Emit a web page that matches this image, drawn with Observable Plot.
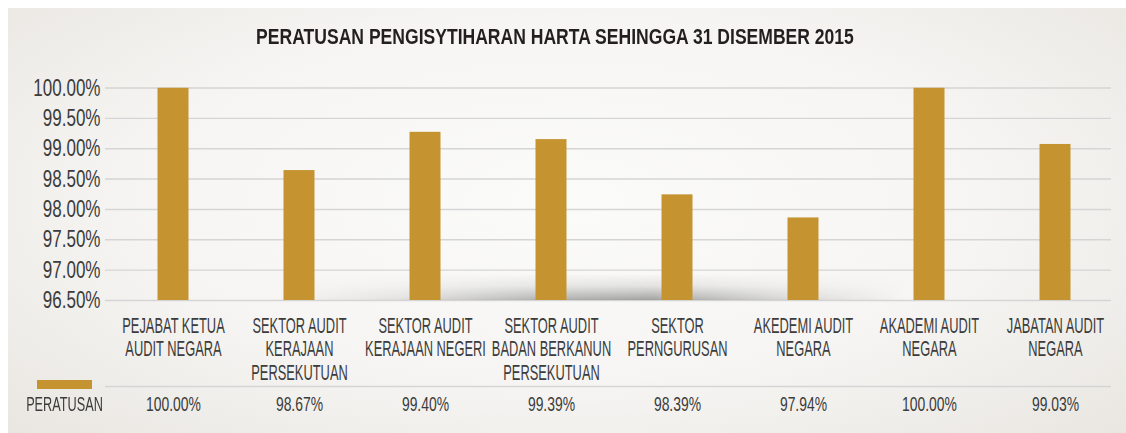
<!DOCTYPE html>
<html>
<head>
<meta charset="utf-8">
<script src="https://cdn.jsdelivr.net/npm/d3@7"></script>
<script src="https://cdn.jsdelivr.net/npm/@observablehq/plot@0.6"></script>
<style>
  html, body { margin: 0; padding: 0; background: #ffffff; width: 1126px; height: 433px; overflow: hidden; }
  #panel { position: absolute; left: 8px; top: 8px; width: 1118px; height: 425px;
    background: radial-gradient(ellipse 75% 85% at 50% 45%, #fbfbfa 0%, #f6f5f3 50%, #e7e4de 100%); }
  #wrap { position: absolute; left: 0; top: 0; width: 1126px; height: 433px; }
  #title { height: 35px; padding-top: 25px; width: 1110px; text-align: center; line-height: 24px;
    font-family: "Liberation Sans", Arial, sans-serif; font-weight: bold; white-space: nowrap;
    font-size: 22.5px; color: #231f20; transform: scaleX(0.78); transform-origin: 555px 0; }
  #swatch { position: absolute; left: 37px; top: 380px; width: 55px; height: 9px; background: #c5932f; }
  #legendLabel { position: absolute; left: 0; top: 392px; width: 129px; text-align: center; line-height: 24px;
    font-family: "Liberation Sans", Arial, sans-serif; font-size: 20.5px; color: #3c3c3c;
    transform: scaleX(0.62); transform-origin: 64.5px 0; white-space: nowrap; }
</style>
</head>
<body>
<div id="panel"></div>
<div id="wrap">
  <div id="title"></div>
  <div id="chart"></div>
  <div id="swatch"></div>
  <div id="legendLabel"></div>
</div>
<script>
(function() {
const chartTitle = "PERATUSAN PENGISYTIHARAN HARTA SEHINGGA 31 DISEMBER 2015";
const seriesName = "PERATUSAN";
const categories = [
  "PEJABAT KETUA\nAUDIT NEGARA",
  "SEKTOR AUDIT\nKERAJAAN\nPERSEKUTUAN",
  "SEKTOR AUDIT\nKERAJAAN NEGERI",
  "SEKTOR AUDIT\nBADAN BERKANUN\nPERSEKUTUAN",
  "SEKTOR\nPERNGURUSAN",
  "AKEDEMI AUDIT\nNEGARA",
  "AKADEMI AUDIT\nNEGARA",
  "JABATAN AUDIT\nNEGARA"
];
// bar heights as drawn in the picture
const barValues = [100.0, 98.64, 99.27, 99.15, 98.24, 97.86, 100.0, 99.07];
// values printed in the table row
const tableLabels = ["100.00%", "98.67%", "99.40%", "99.39%", "98.39%", "97.94%", "100.00%", "99.03%"];
const yTicks = [96.5, 97, 97.5, 98, 98.5, 99, 99.5, 100];

const GOLD = "#c5932f";
const TEXT = "#3c3c3c";
const GRID = "#d5d5d5";
const FONT = '"Liberation Sans", Arial, sans-serif';

document.getElementById("title").textContent = chartTitle;
document.getElementById("legendLabel").textContent = seriesName;

const data = categories.map((c, i) => ({category: c, value: barValues[i], table: tableLabels[i]}));

const plot = Plot.plot({
  width: 1126,
  height: 373,
  marginTop: 27.5,
  marginBottom: 133,
  marginLeft: 105,
  marginRight: 15,
  style: {background: "transparent", fontFamily: FONT, color: TEXT, overflow: "visible"},
  x: {domain: categories, range: [109.5, 1117.5], padding: 0, axis: null, label: null},
  y: {domain: [96.5, 100], axis: null, label: null},
  marks: [
    Plot.ruleY(yTicks, {stroke: GRID, strokeWidth: 1.4}),
    Plot.barY(data, {x: "category", y: "value", fill: GOLD, insetLeft: 47.5, insetRight: 47.5, clip: true}),
    Plot.axisY(yTicks, {tickSize: 0, tickPadding: 5, fontSize: 24, label: null,
      tickFormat: d => d.toFixed(2) + "%", fill: TEXT}),
    Plot.axisX({tickSize: 0, tickPadding: 15, fontSize: 22, lineHeight: 1.09, label: null, fill: TEXT}),
    Plot.ruleY([96.5], {dy: 86, stroke: GRID, strokeWidth: 1.4}),
    Plot.text(data, {x: "category", text: "table", frameAnchor: "bottom", dy: 104, lineAnchor: "middle",
      fontSize: 20.5, fill: TEXT})
  ]
});

document.getElementById("chart").appendChild(plot);

// horizontal condensing of text to mimic the condensed face
function squeeze(sel, s) {
  d3.select(plot).selectAll(sel).each(function() {
    const t = this.getAttribute("transform");
    if (t) this.setAttribute("transform", t + ` scale(${s},1)`);
    else {
      const x = +this.getAttribute("x") || 0, y = +this.getAttribute("y") || 0;
      this.setAttribute("transform", `translate(${x},${y}) scale(${s},1) translate(${-x},${-y})`);
    }
  });
}
squeeze('g[aria-label="x-axis tick label"] text', 0.585);
squeeze('g[aria-label="y-axis tick label"] text', 0.71);
squeeze('g[aria-label="text"] text', 0.68);

// soft floor shadow behind the middle bars
const xs = plot.scale("x"), ys = plot.scale("y");
const svg = d3.select(plot);
const defs = svg.insert("defs", ":first-child");
const vg = defs.append("linearGradient").attr("id", "shadeV").attr("x1", 0).attr("y1", 0).attr("x2", 0).attr("y2", 1);
vg.append("stop").attr("offset", "0%").attr("stop-color", "#9a9a9a").attr("stop-opacity", 0);
vg.append("stop").attr("offset", "45%").attr("stop-color", "#9a9a9a").attr("stop-opacity", 0.22);
vg.append("stop").attr("offset", "100%").attr("stop-color", "#8c8c8c").attr("stop-opacity", 0.8);
const hg = defs.append("linearGradient").attr("id", "shadeH").attr("x1", 0).attr("y1", 0).attr("x2", 1).attr("y2", 0);
[[0, 0], [0.2, 0.25], [0.42, 0.8], [0.6, 1], [0.8, 0.4], [1, 0]].forEach(([o, a]) =>
  hg.append("stop").attr("offset", o).attr("stop-color", "#fff").attr("stop-opacity", a));
const base = ys.apply(96.5);
const shTop = ys.apply(97.0) + 4;
const sx0 = xs.apply(categories[1]) + xs.bandwidth * 0.3;
const sx1 = xs.apply(categories[6]) + xs.bandwidth * 0.3;
const mask = defs.append("mask").attr("id", "shadeMask").attr("maskUnits", "userSpaceOnUse")
  .attr("x", sx0).attr("y", shTop).attr("width", sx1 - sx0).attr("height", base - shTop);
mask.append("rect").attr("x", sx0).attr("y", shTop).attr("width", sx1 - sx0).attr("height", base - shTop)
  .attr("fill", "url(#shadeH)");
svg.insert("rect", 'g[aria-label="bar"]')
  .attr("x", sx0).attr("y", shTop).attr("width", sx1 - sx0).attr("height", base - shTop)
  .attr("fill", "url(#shadeV)").attr("mask", "url(#shadeMask)");
})();
</script>
</body>
</html>
